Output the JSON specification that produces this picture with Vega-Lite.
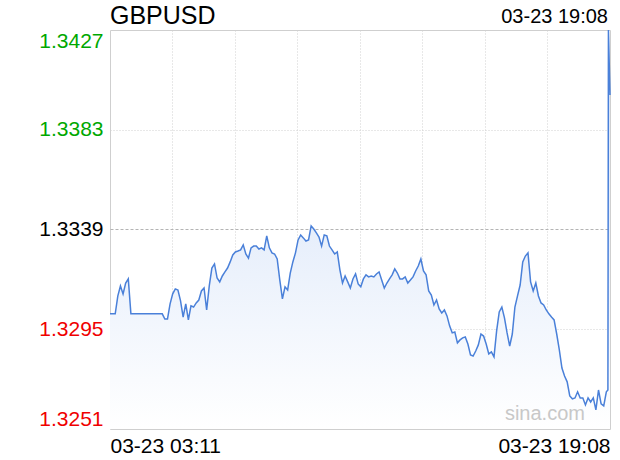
{
  "$schema": "https://vega.github.io/schema/vega-lite/v6.json",
  "width": 500,
  "height": 399,
  "autosize": {"type": "none"},
  "padding": {"left": 110, "top": 30, "right": 10, "bottom": 31},
  "background": "white",
  "config": {"view": {"stroke": "#cfcfcf", "strokeWidth": 1}, "font": "Liberation Sans"},
  "data": {
    "format": {"parse": {"t": "date:'%m-%d %H:%M'"}},
    "values": [
      {"t": "03-23 03:11", "p": 1.33018}, {"t": "03-23 03:16", "p": 1.33018}, {"t": "03-23 03:21", "p": 1.33018}, {"t": "03-23 03:26", "p": 1.33097},
      {"t": "03-23 03:31", "p": 1.33141}, {"t": "03-23 03:36", "p": 1.33106}, {"t": "03-23 03:41", "p": 1.33154}, {"t": "03-23 03:46", "p": 1.33172},
      {"t": "03-23 03:51", "p": 1.33018}, {"t": "03-23 03:56", "p": 1.33018}, {"t": "03-23 04:01", "p": 1.33018}, {"t": "03-23 04:06", "p": 1.33018},
      {"t": "03-23 04:11", "p": 1.33018}, {"t": "03-23 04:16", "p": 1.33018}, {"t": "03-23 04:21", "p": 1.33018}, {"t": "03-23 04:26", "p": 1.33018},
      {"t": "03-23 04:31", "p": 1.33018}, {"t": "03-23 04:36", "p": 1.33018}, {"t": "03-23 04:41", "p": 1.33018}, {"t": "03-23 04:46", "p": 1.33018},
      {"t": "03-23 04:51", "p": 1.33018}, {"t": "03-23 04:56", "p": 1.32995}, {"t": "03-23 05:01", "p": 1.32995}, {"t": "03-23 05:06", "p": 1.33062},
      {"t": "03-23 05:11", "p": 1.33106}, {"t": "03-23 05:16", "p": 1.33128}, {"t": "03-23 05:21", "p": 1.33123}, {"t": "03-23 05:26", "p": 1.33075},
      {"t": "03-23 05:31", "p": 1.33004}, {"t": "03-23 05:36", "p": 1.33062}, {"t": "03-23 05:41", "p": 1.32991}, {"t": "03-23 05:46", "p": 1.33053},
      {"t": "03-23 05:51", "p": 1.33048}, {"t": "03-23 05:56", "p": 1.33066}, {"t": "03-23 06:01", "p": 1.33079}, {"t": "03-23 06:06", "p": 1.33119},
      {"t": "03-23 06:11", "p": 1.33132}, {"t": "03-23 06:16", "p": 1.33035}, {"t": "03-23 06:21", "p": 1.33141}, {"t": "03-23 06:26", "p": 1.3322},
      {"t": "03-23 06:31", "p": 1.33238}, {"t": "03-23 06:36", "p": 1.33176}, {"t": "03-23 06:41", "p": 1.33159}, {"t": "03-23 06:46", "p": 1.33185},
      {"t": "03-23 06:51", "p": 1.33203}, {"t": "03-23 06:56", "p": 1.3322}, {"t": "03-23 07:01", "p": 1.33247}, {"t": "03-23 07:06", "p": 1.33278},
      {"t": "03-23 07:11", "p": 1.33291}, {"t": "03-23 07:16", "p": 1.33295}, {"t": "03-23 07:21", "p": 1.333}, {"t": "03-23 07:26", "p": 1.33322},
      {"t": "03-23 07:31", "p": 1.33282}, {"t": "03-23 07:36", "p": 1.33264}, {"t": "03-23 07:41", "p": 1.33309}, {"t": "03-23 07:46", "p": 1.33317},
      {"t": "03-23 07:51", "p": 1.33317}, {"t": "03-23 07:56", "p": 1.33304}, {"t": "03-23 08:01", "p": 1.33309}, {"t": "03-23 08:06", "p": 1.333},
      {"t": "03-23 08:11", "p": 1.33362}, {"t": "03-23 08:16", "p": 1.33309}, {"t": "03-23 08:21", "p": 1.33287}, {"t": "03-23 08:26", "p": 1.33282},
      {"t": "03-23 08:31", "p": 1.3326}, {"t": "03-23 08:36", "p": 1.33167}, {"t": "03-23 08:41", "p": 1.33084}, {"t": "03-23 08:46", "p": 1.33137},
      {"t": "03-23 08:51", "p": 1.33123}, {"t": "03-23 08:56", "p": 1.33198}, {"t": "03-23 09:01", "p": 1.33247}, {"t": "03-23 09:06", "p": 1.33287},
      {"t": "03-23 09:11", "p": 1.33344}, {"t": "03-23 09:16", "p": 1.33366}, {"t": "03-23 09:21", "p": 1.33353}, {"t": "03-23 09:26", "p": 1.33339},
      {"t": "03-23 09:31", "p": 1.33344}, {"t": "03-23 09:36", "p": 1.33406}, {"t": "03-23 09:41", "p": 1.33392}, {"t": "03-23 09:46", "p": 1.33375},
      {"t": "03-23 09:51", "p": 1.33357}, {"t": "03-23 09:56", "p": 1.33317}, {"t": "03-23 10:01", "p": 1.33366}, {"t": "03-23 10:06", "p": 1.33362},
      {"t": "03-23 10:11", "p": 1.33317}, {"t": "03-23 10:16", "p": 1.333}, {"t": "03-23 10:21", "p": 1.33282}, {"t": "03-23 10:26", "p": 1.33291},
      {"t": "03-23 10:31", "p": 1.33212}, {"t": "03-23 10:36", "p": 1.33154}, {"t": "03-23 10:41", "p": 1.33185}, {"t": "03-23 10:46", "p": 1.33159},
      {"t": "03-23 10:51", "p": 1.33132}, {"t": "03-23 10:56", "p": 1.33172}, {"t": "03-23 11:01", "p": 1.33194}, {"t": "03-23 11:06", "p": 1.3315},
      {"t": "03-23 11:11", "p": 1.33137}, {"t": "03-23 11:16", "p": 1.33172}, {"t": "03-23 11:21", "p": 1.3319}, {"t": "03-23 11:26", "p": 1.33181},
      {"t": "03-23 11:31", "p": 1.33185}, {"t": "03-23 11:36", "p": 1.33181}, {"t": "03-23 11:41", "p": 1.33194}, {"t": "03-23 11:46", "p": 1.33203},
      {"t": "03-23 11:51", "p": 1.33167}, {"t": "03-23 11:56", "p": 1.33132}, {"t": "03-23 12:01", "p": 1.33154}, {"t": "03-23 12:06", "p": 1.33172},
      {"t": "03-23 12:11", "p": 1.3319}, {"t": "03-23 12:16", "p": 1.33216}, {"t": "03-23 12:21", "p": 1.33198}, {"t": "03-23 12:26", "p": 1.33172},
      {"t": "03-23 12:31", "p": 1.33172}, {"t": "03-23 12:36", "p": 1.33181}, {"t": "03-23 12:41", "p": 1.33154}, {"t": "03-23 12:46", "p": 1.33167},
      {"t": "03-23 12:51", "p": 1.33181}, {"t": "03-23 12:56", "p": 1.33207}, {"t": "03-23 13:01", "p": 1.33229}, {"t": "03-23 13:06", "p": 1.3326},
      {"t": "03-23 13:11", "p": 1.33207}, {"t": "03-23 13:16", "p": 1.3319}, {"t": "03-23 13:21", "p": 1.33119}, {"t": "03-23 13:26", "p": 1.33101},
      {"t": "03-23 13:31", "p": 1.33057}, {"t": "03-23 13:36", "p": 1.33079}, {"t": "03-23 13:41", "p": 1.3304}, {"t": "03-23 13:46", "p": 1.33022},
      {"t": "03-23 13:51", "p": 1.33035}, {"t": "03-23 13:56", "p": 1.33009}, {"t": "03-23 14:01", "p": 1.32965}, {"t": "03-23 14:06", "p": 1.32934},
      {"t": "03-23 14:11", "p": 1.32938}, {"t": "03-23 14:16", "p": 1.3289}, {"t": "03-23 14:21", "p": 1.32903}, {"t": "03-23 14:26", "p": 1.32912},
      {"t": "03-23 14:31", "p": 1.32916}, {"t": "03-23 14:36", "p": 1.32885}, {"t": "03-23 14:41", "p": 1.32837}, {"t": "03-23 14:46", "p": 1.32832},
      {"t": "03-23 14:51", "p": 1.32854}, {"t": "03-23 14:56", "p": 1.32881}, {"t": "03-23 15:01", "p": 1.32929}, {"t": "03-23 15:06", "p": 1.3292},
      {"t": "03-23 15:11", "p": 1.32885}, {"t": "03-23 15:16", "p": 1.32841}, {"t": "03-23 15:21", "p": 1.3285}, {"t": "03-23 15:26", "p": 1.32828},
      {"t": "03-23 15:31", "p": 1.32943}, {"t": "03-23 15:36", "p": 1.33026}, {"t": "03-23 15:41", "p": 1.33048}, {"t": "03-23 15:46", "p": 1.33},
      {"t": "03-23 15:51", "p": 1.32934}, {"t": "03-23 15:56", "p": 1.32876}, {"t": "03-23 16:01", "p": 1.32929}, {"t": "03-23 16:06", "p": 1.33048},
      {"t": "03-23 16:11", "p": 1.33097}, {"t": "03-23 16:16", "p": 1.33145}, {"t": "03-23 16:21", "p": 1.33247}, {"t": "03-23 16:26", "p": 1.33273},
      {"t": "03-23 16:31", "p": 1.33287}, {"t": "03-23 16:36", "p": 1.33159}, {"t": "03-23 16:41", "p": 1.33119}, {"t": "03-23 16:46", "p": 1.33154},
      {"t": "03-23 16:51", "p": 1.33097}, {"t": "03-23 16:56", "p": 1.33066}, {"t": "03-23 17:01", "p": 1.33057}, {"t": "03-23 17:06", "p": 1.33035},
      {"t": "03-23 17:11", "p": 1.33018}, {"t": "03-23 17:16", "p": 1.33004}, {"t": "03-23 17:21", "p": 1.32991}, {"t": "03-23 17:26", "p": 1.32929},
      {"t": "03-23 17:31", "p": 1.32859}, {"t": "03-23 17:36", "p": 1.32779}, {"t": "03-23 17:41", "p": 1.32744}, {"t": "03-23 17:46", "p": 1.32718},
      {"t": "03-23 17:51", "p": 1.32656}, {"t": "03-23 17:56", "p": 1.32643}, {"t": "03-23 18:01", "p": 1.32647}, {"t": "03-23 18:06", "p": 1.32674},
      {"t": "03-23 18:11", "p": 1.32647}, {"t": "03-23 18:16", "p": 1.32647}, {"t": "03-23 18:21", "p": 1.32616}, {"t": "03-23 18:26", "p": 1.32647},
      {"t": "03-23 18:31", "p": 1.32629}, {"t": "03-23 18:36", "p": 1.32647}, {"t": "03-23 18:41", "p": 1.32594}, {"t": "03-23 18:46", "p": 1.32682},
      {"t": "03-23 18:51", "p": 1.32621}, {"t": "03-23 18:56", "p": 1.32612}, {"t": "03-23 19:01", "p": 1.32674}, {"t": "03-23 19:04", "p": 1.32682},
      {"t": "03-23 19:05", "p": 1.3427}, {"t": "03-23 19:08", "p": 1.33983}
    ]
  },
  "layer": [
    {
      "mark": {"type": "area", "interpolate": "linear", "color": {"gradient": "linear", "x1": 0, "y1": 0, "x2": 0, "y2": 1, "stops": [{"offset": 0, "color": "#dce7f9"}, {"offset": 0.49, "color": "#e6eefb"}, {"offset": 1, "color": "#ffffff"}]}},
      "encoding": {
        "x": {
          "field": "t", "type": "temporal",
          "scale": {"domain": [{"year": 1900, "month": 3, "date": 23, "hours": 3, "minutes": 11}, {"year": 1900, "month": 3, "date": 23, "hours": 19, "minutes": 8}], "nice": false},
          "axis": {
            "title": null,
            "values": [
              {"year": 1900, "month": 3, "date": 23, "hours": 3, "minutes": 11},
              {"year": 1900, "month": 3, "date": 23, "hours": 5, "minutes": 10, "seconds": 37},
              {"year": 1900, "month": 3, "date": 23, "hours": 7, "minutes": 10, "seconds": 15},
              {"year": 1900, "month": 3, "date": 23, "hours": 9, "minutes": 9, "seconds": 52},
              {"year": 1900, "month": 3, "date": 23, "hours": 11, "minutes": 9, "seconds": 30},
              {"year": 1900, "month": 3, "date": 23, "hours": 13, "minutes": 9, "seconds": 7},
              {"year": 1900, "month": 3, "date": 23, "hours": 15, "minutes": 8, "seconds": 45},
              {"year": 1900, "month": 3, "date": 23, "hours": 17, "minutes": 8, "seconds": 22},
              {"year": 1900, "month": 3, "date": 23, "hours": 19, "minutes": 8}
            ],
            "labelExpr": "datum.index == 0 || datum.index == 1 ? timeFormat(datum.value, '%m-%d %H:%M') : ''",
            "labelFlush": true, "labelOverlap": false, "ticks": false, "tickSize": 0, "domain": false,
            "labelFont": "Liberation Sans", "labelFontSize": 21, "labelColor": "#000000", "labelPadding": 6,
            "gridColor": "#d0d0d0", "gridDash": [1, 2],
            "gridOpacity": {"condition": {"test": "datum.index == 0 || datum.index == 1", "value": 0}, "value": 1}
          }
        },
        "y": {
          "field": "p", "type": "quantitative",
          "scale": {"domain": [1.3251, 1.3427], "nice": false, "zero": false},
          "axis": {
            "title": null,
            "values": [1.3251, 1.3295, 1.3339, 1.3383, 1.3427],
            "format": ".4f", "labelFlush": true, "ticks": false, "tickSize": 0, "domain": false,
            "labelFont": "Liberation Sans", "labelFontSize": 21, "labelPadding": 7,
            "labelColor": {"condition": [{"test": "datum.value > 1.334", "value": "#00a800"}, {"test": "datum.value < 1.3338", "value": "#f00000"}], "value": "#000000"},
            "gridColor": {"condition": {"test": "abs(datum.value - 1.3339) < 0.00001", "value": "#b4b4b4"}, "value": "#d0d0d0"},
            "gridDash": {"condition": {"test": "abs(datum.value - 1.3339) < 0.00001", "value": [3, 2]}, "value": [1, 2]},
            "gridOpacity": {"condition": {"test": "datum.value < 1.3252 || datum.value > 1.3426", "value": 0}, "value": 1}
          }
        },
        "y2": {"datum": 1.3251}
      }
    },
    {
      "data": {"values": [{"label": "sina.com"}]},
      "mark": {"type": "text", "align": "right", "baseline": "alphabetic", "font": "Liberation Sans", "fontSize": 20, "color": "#c8c8c8"},
      "encoding": {
        "x": {"datum": {"year": 1900, "month": 3, "date": 23, "hours": 18, "minutes": 20}, "type": "temporal"},
        "y": {"datum": 1.3255, "type": "quantitative"},
        "text": {"field": "label"}
      }
    },
    {
      "mark": {"type": "line", "interpolate": "linear", "color": "#4a80d9", "strokeWidth": 1.5},
      "encoding": {
        "x": {"field": "t", "type": "temporal"},
        "y": {"field": "p", "type": "quantitative"}
      }
    },
    {
      "transform": [{"aggregate": [{"op": "max", "field": "t", "as": "t"}]}],
      "mark": {"type": "text", "align": "right", "baseline": "alphabetic", "font": "Liberation Sans", "fontSize": 20, "color": "#000000", "dx": -2, "dy": -7},
      "encoding": {
        "x": {"field": "t", "type": "temporal"},
        "y": {"datum": 1.3427, "type": "quantitative"},
        "text": {"field": "t", "type": "temporal", "format": "%m-%d %H:%M"}
      }
    },
    {
      "data": {"values": [{"symbol": "GBPUSD"}]},
      "mark": {"type": "text", "align": "left", "baseline": "alphabetic", "font": "Liberation Sans", "fontSize": 25, "color": "#000000", "dy": -6},
      "encoding": {
        "x": {"datum": {"year": 1900, "month": 3, "date": 23, "hours": 3, "minutes": 11}, "type": "temporal"},
        "y": {"datum": 1.3427, "type": "quantitative"},
        "text": {"field": "symbol"}
      }
    }
  ]
}
